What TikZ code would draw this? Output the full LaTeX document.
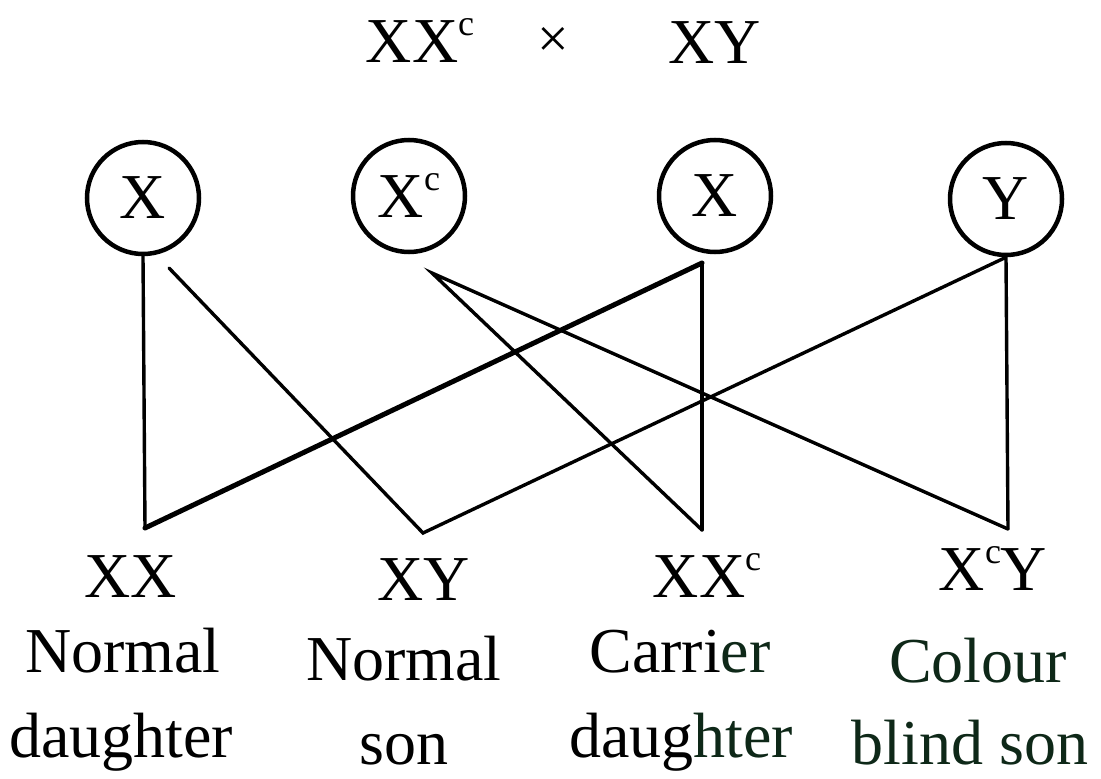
\documentclass[tikz,border=0pt]{standalone}
\usepackage{fontspec}
\setmainfont{Liberation Serif}
\definecolor{scangreen}{HTML}{0E2818}
\newcommand\supc{\raisebox{27pt}{\fontsize{36}{36}\selectfont c}}
\begin{document}
\begin{tikzpicture}[x=1pt,y=-1pt,
  big/.style={font=\fontsize{64}{70}\selectfont},
  gam/.style={big, draw, circle, line width=4.5pt, minimum size=112pt, inner sep=0pt},
  lbl/.style={big, anchor=base, inner sep=0pt},
  link/.style={line width=3.4pt, line join=miter, line cap=round},
  heavy/.style={line width=5pt, line cap=round}]
\useasboundingbox[fill=white] (0,0) rectangle (1101,779);

% parents
\node[lbl] (pm) at (420,62) {XX\supc};
\node[lbl, font=\fontsize{56}{60}\selectfont] (cross) at (553,57) {×};
\node[lbl] (pf) at (715,63) {XY};

% gametes
\node[gam] (X1) at (143,198) {X};
\node[gam] (Xc) at (409,196) {X\supc};
\node[gam] (X2) at (715,196) {X};
\node[gam] (Y)  at (1006,199) {Y};

% free ends and vertices
\coordinate (aX)  at (169,268);
\coordinate (aXc) at (432,273);
\coordinate (aX2) at (702,263);
\coordinate (vXX)  at (145,528);
\coordinate (vXY)  at (423,533);
\coordinate (vXXc) at (702,530);
\coordinate (vXcY) at (1008,529);

% connectors
\draw[link] (X1.south) -- (vXX);
\draw[heavy] (vXX) -- (aX2);
\draw[link] (aX2) -- (vXXc);
\draw[link] (aX) -- (vXY) -- (Y.south) -- (vXcY);
\draw[link] (vXXc) -- (aXc) -- (vXcY);

% offspring
\node[lbl] (g1) at (131,597) {XX};
\node[lbl] (g2) at (424,600) {XY};
\node[lbl] (g3) at (707,597) {XX\supc};
\node[lbl] (g4) at (993,590) {X\supc Y};

\node[lbl] (d1a) at (123,672) {Normal};
\node[lbl] (d1b) at (121,757) {daughter};
\node[lbl] (d2a) at (404,680) {Normal};
\node[lbl] (d2b) at (404,764) {son};
\node[lbl] (d3a) at (680,672) {Carri\textcolor{scangreen}{er}};
\node[lbl] (d3b) at (681,757) {daug\textcolor{scangreen}{hter}};
\node[lbl, text=scangreen] (d4a) at (978,682) {Colour};
\node[lbl, text=scangreen] (d4b) at (970,764) {blind son};
\end{tikzpicture}
\end{document}
